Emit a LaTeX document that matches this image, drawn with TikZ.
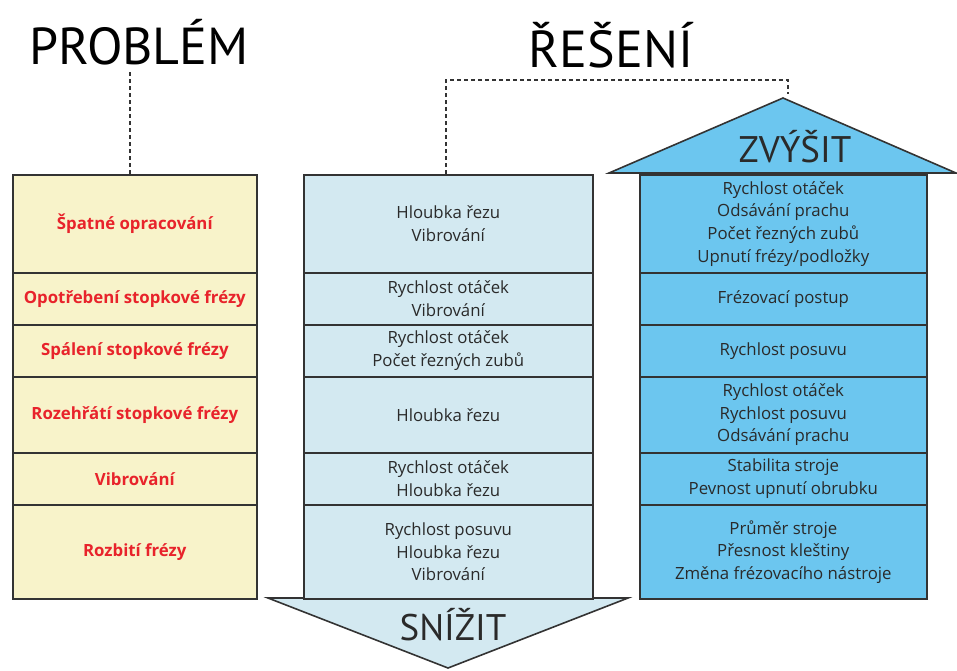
\documentclass[tikz,border=0pt]{standalone}
\usepackage{fontspec}
\setmainfont{Open Sans}
\newfontfamily\ptsans{PT Sans}
\definecolor{cyel}{HTML}{F8F3CA}
\definecolor{clb}{HTML}{D3E9F1}
\definecolor{cbl}{HTML}{6CC6EF}
\definecolor{cred}{HTML}{E8232B}
\definecolor{cbord}{HTML}{333333}
\definecolor{ctxt}{HTML}{2A2A2A}
\begin{document}
\begin{tikzpicture}[x=1pt,y=-1pt,
  cell/.style={draw=cbord, line width=1.6pt, anchor=north west, inner sep=0pt, align=center, text=ctxt,
    font=\fontsize{16.8}{22.6}\selectfont},
  lcell/.style={cell, fill=cyel, text=cred, minimum width=244pt, font=\fontsize{16.8}{22.6}\selectfont\bfseries},
  mcell/.style={cell, fill=clb, minimum width=289pt},
  rcell/.style={cell, fill=cbl, minimum width=287pt},
  title/.style={font=\ptsans\fontsize{52}{60}\selectfont, text=black, inner sep=0pt},
  arrowtxt/.style={font=\ptsans\fontsize{37}{44}\selectfont, text=ctxt, inner sep=0pt},
  dline/.style={draw=cbord, line width=1.3pt, dash pattern=on 4pt off 3pt},
  arrowshape/.style={draw=cbord, line width=1.6pt, line join=miter}
]
\useasboundingbox (0,0) rectangle (957,670);

% titles
\node[title] (tp) at (139,42) {PROBLÉM};
\node[title] (ts) at (611,45) {ŘEŠENÍ};

% arrow heads
\coordinate (up) at (783,98);
\coordinate (ul) at (609,173);
\coordinate (ur) at (956,173);
\filldraw[arrowshape, fill=cbl] (ul) -- (up) -- (ur) -- cycle;
\coordinate (dl) at (268,598);
\coordinate (dr) at (628,598);
\coordinate (dt) at (448,668);
\filldraw[arrowshape, fill=clb] (dl) -- (dt) -- (dr) -- cycle;
\node[arrowtxt] (zv) at (795,147) {ZVÝŠIT};
\node[arrowtxt] (sn) at (453,625) {SNÍŽIT};

% left column
\node[lcell, minimum height=98pt] (L1) at (12,174) {Špatné opracování};
\node[lcell, minimum height=52pt] (L2) at (12,272) {Opotřebení stopkové frézy};
\node[lcell, minimum height=52pt] (L3) at (12,324) {Spálení stopkové frézy};
\node[lcell, minimum height=76pt] (L4) at (12,376) {Rozehřátí stopkové frézy};
\node[lcell, minimum height=52pt] (L5) at (12,452) {Vibrování};
\node[lcell, minimum height=94pt] (L6) at (12,504) {Rozbití frézy};

% middle column
\node[mcell, minimum height=98pt] (M1) at (303,174) {Hloubka řezu\\Vibrování};
\node[mcell, minimum height=52pt] (M2) at (303,272) {Rychlost otáček\\Vibrování};
\node[mcell, minimum height=52pt] (M3) at (303,324) {Rychlost otáček\\Počet řezných zubů};
\node[mcell, minimum height=76pt] (M4) at (303,376) {Hloubka řezu};
\node[mcell, minimum height=52pt] (M5) at (303,452) {Rychlost otáček\\Hloubka řezu};
\node[mcell, minimum height=94pt] (M6) at (303,504) {Rychlost posuvu\\Hloubka řezu\\Vibrování};

% right column
\node[rcell, minimum height=98pt] (R1) at (639,174) {Rychlost otáček\\Odsávání prachu\\Počet řezných zubů\\Upnutí frézy/podložky};
\node[rcell, minimum height=52pt] (R2) at (639,272) {Frézovací postup};
\node[rcell, minimum height=52pt] (R3) at (639,324) {Rychlost posuvu};
\node[rcell, minimum height=76pt] (R4) at (639,376) {Rychlost otáček\\Rychlost posuvu\\Odsávání prachu};
\node[rcell, minimum height=52pt] (R5) at (639,452) {Stabilita stroje\\Pevnost upnutí obrubku};
\node[rcell, minimum height=94pt] (R6) at (639,504) {Průměr stroje\\Přesnost kleštiny\\Změna frézovacího nástroje};

% dashed connectors
\coordinate (p0) at (130,72);
\draw[dline] (p0) -- (L1.north -| p0);
\coordinate (s1) at (446,80);
\coordinate (s2) at (788,80);
\coordinate (s3) at (788,94);
\draw[dline] (M1.north -| s1) -- (s1) -- (s2) -- (s3);
\end{tikzpicture}
\end{document}
